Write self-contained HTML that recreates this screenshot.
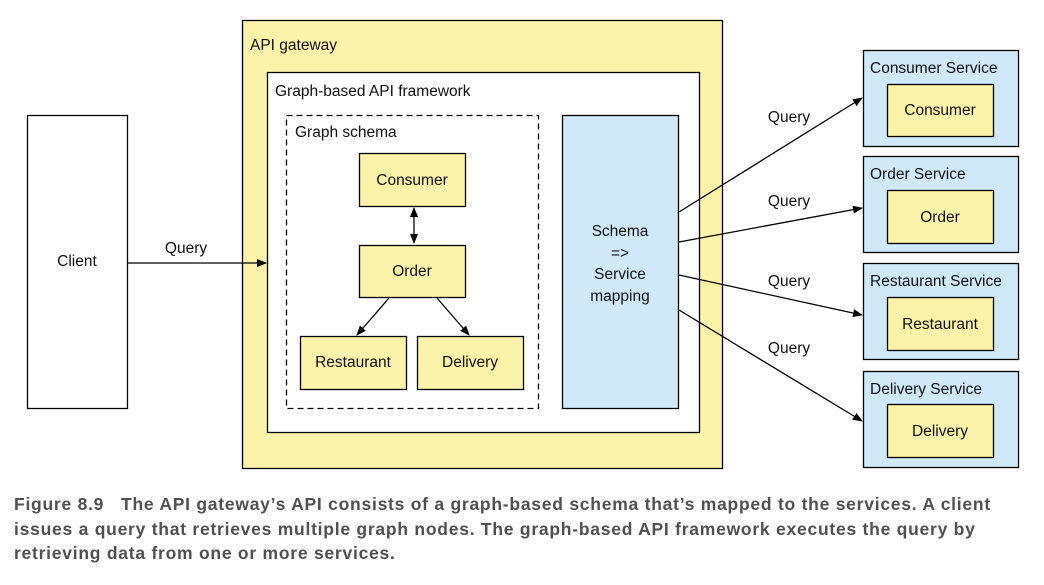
<!DOCTYPE html>
<html><head><meta charset="utf-8"><style>
body{margin:0;background:#fff;width:1044px;height:585px;position:relative;overflow:hidden;font-family:"Liberation Sans",sans-serif;}
.cap{position:absolute;left:14px;top:492px;font-family:"Liberation Sans",sans-serif;font-weight:bold;font-size:17.5px;letter-spacing:0.75px;line-height:24.5px;color:#505050;white-space:nowrap;}
</style></head><body>
<svg width="1044" height="480" style="position:absolute;left:0;top:0" font-family="Liberation Sans, sans-serif" font-size="15.5" fill="#111">
<defs><marker id="a" markerWidth="10" markerHeight="8" refX="9" refY="4" orient="auto-start-reverse" markerUnits="userSpaceOnUse"><path d="M0,0L10,4L0,8z" fill="#000"/></marker></defs>
<g stroke="#000" stroke-width="1.3">
<rect x="27.5" y="115.5" width="100" height="293" fill="#fff"/>
<rect x="242.5" y="20.5" width="480" height="448" fill="#fbf3a9"/>
<rect x="267.5" y="72.5" width="432" height="360" fill="#fff"/>
<rect x="286.5" y="115.5" width="252" height="293" fill="none" stroke-dasharray="6,4"/>
<rect x="359.5" y="153.5" width="106" height="53" fill="#fbf3a9"/>
<rect x="359.5" y="245.5" width="106" height="52" fill="#fbf3a9"/>
<rect x="300.5" y="336.5" width="106" height="53" fill="#fbf3a9"/>
<rect x="417.5" y="336.5" width="106" height="53" fill="#fbf3a9"/>
<rect x="562.5" y="115.5" width="116" height="293" fill="#d1e8f9"/>
<rect x="863.5" y="50.5" width="155" height="96" fill="#d1e8f9"/>
<rect x="887.5" y="84.5" width="106" height="52" fill="#fbf3a9"/>
<rect x="863.5" y="156.5" width="155" height="96" fill="#d1e8f9"/>
<rect x="887.5" y="190.5" width="106" height="53" fill="#fbf3a9"/>
<rect x="863.5" y="263.5" width="155" height="96" fill="#d1e8f9"/>
<rect x="887.5" y="297.5" width="106" height="53" fill="#fbf3a9"/>
<rect x="863.5" y="371.5" width="155" height="96" fill="#d1e8f9"/>
<rect x="887.5" y="404.5" width="106" height="53" fill="#fbf3a9"/>
<g fill="none" marker-end="url(#a)">
<line x1="127" y1="263" x2="266" y2="263"/>
<line x1="414" y1="208" x2="414" y2="243" marker-start="url(#a)"/>
<line x1="389" y1="298" x2="357" y2="335"/>
<line x1="437" y1="298" x2="469" y2="335"/>
<line x1="679" y1="212" x2="862" y2="98"/>
<line x1="679" y1="242" x2="862" y2="208"/>
<line x1="679" y1="275" x2="862" y2="315"/>
<line x1="679" y1="310" x2="862" y2="421"/>
</g></g>
<text x="250" y="50">API gateway</text>
<text x="275" y="96">Graph-based API framework</text>
<text x="295" y="137">Graph schema</text>
<g text-anchor="middle">
<text x="77" y="266">Client</text>
<text x="186" y="253">Query</text>
<text x="412" y="185">Consumer</text>
<text x="412" y="276">Order</text>
<text x="353" y="367">Restaurant</text>
<text x="470" y="367">Delivery</text>
<text x="620" y="236">Schema</text>
<text x="620" y="258">=&gt;</text>
<text x="620" y="279">Service</text>
<text x="620" y="301">mapping</text>
<text x="789" y="122">Query</text>
<text x="789" y="206">Query</text>
<text x="789" y="286">Query</text>
<text x="789" y="353">Query</text>
<text x="940" y="115">Consumer</text>
<text x="940" y="222">Order</text>
<text x="940" y="329">Restaurant</text>
<text x="940" y="436">Delivery</text>
</g>
<text x="870" y="73">Consumer Service</text>
<text x="870" y="179">Order Service</text>
<text x="870" y="286">Restaurant Service</text>
<text x="870" y="394">Delivery Service</text>
</svg>
<div class="cap">Figure 8.9&nbsp;&nbsp;&nbsp;The API gateway’s API consists of a graph-based schema that’s mapped to the services. A client<br>issues a query that retrieves multiple graph nodes. The graph-based API framework executes the query by<br>retrieving data from one or more services.</div>
</body></html>
